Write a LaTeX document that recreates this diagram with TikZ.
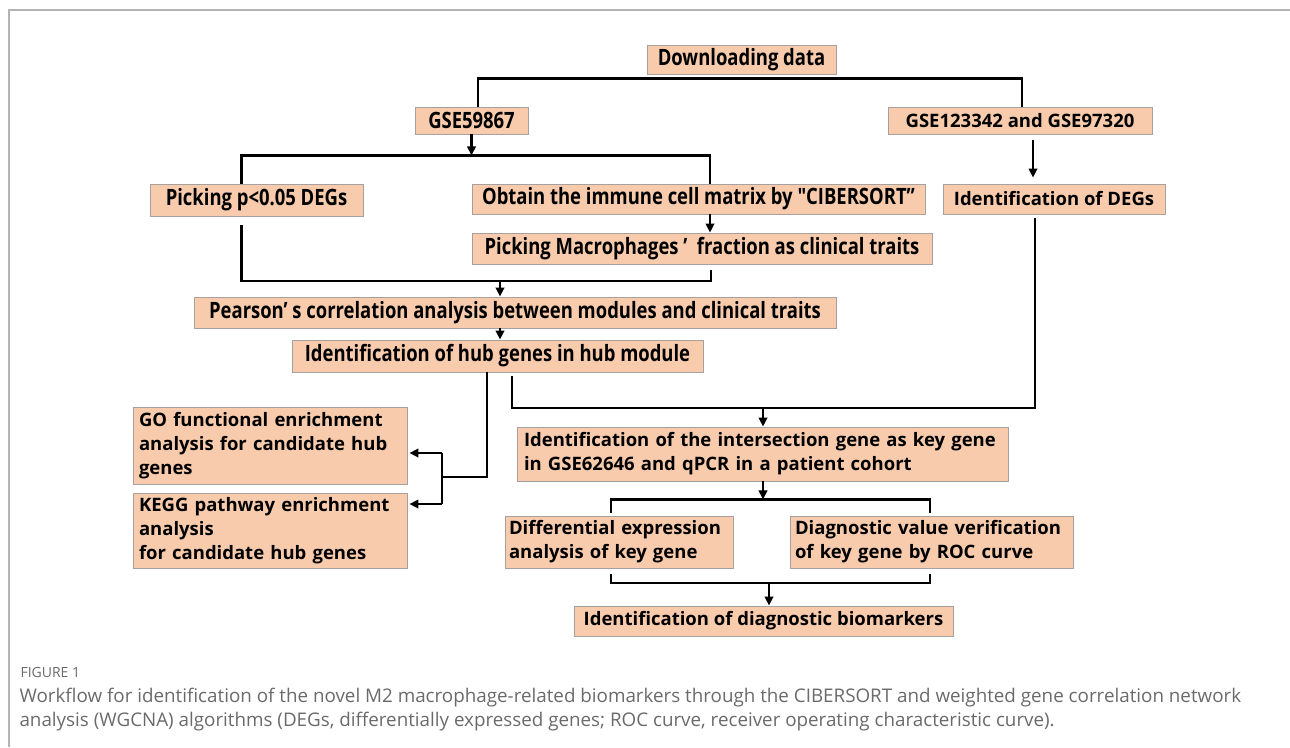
\documentclass[tikz,border=0pt]{standalone}
\usepackage{fontspec}
\setmainfont{Open Sans}
\newfontfamily\narrowfont[FakeStretch=0.82]{Open Sans}
\usetikzlibrary{arrows.meta,calc}
\definecolor{boxfill}{HTML}{F8CBAD}
\definecolor{boxline}{HTML}{A6A0A0}
\definecolor{framegray}{HTML}{B4B4B4}
\definecolor{capgray}{HTML}{6A6A6A}
\begin{document}
\begin{tikzpicture}[x=1pt,y=-1pt,
    box/.style={draw=boxline,fill=boxfill,line width=0.9pt,inner sep=0pt,
      font=\fontsize{18.5}{24}\selectfont\bfseries,align=left},
    nbox/.style={box,font=\fontsize{22.5}{24}\narrowfont\bfseries},
    conn/.style={line width=2.6pt,line join=miter},
    arr/.style={conn,-{Triangle[length=9pt,width=8.5pt]}}]
  \useasboundingbox (0,0) rectangle (1290,747);
  \draw[framegray,line width=1.6pt] (9,747) -- (9,10) -- (1290,10);

  % boxes
  \node[nbox,minimum width=189,minimum height=29] (dl) at (741.5,59.5) {Downloading data};
  \node[nbox,minimum width=113,minimum height=27] (gsea) at (471.5,120.5) {GSE59867};
  \node[box,minimum width=264,minimum height=27] (gseb) at (1020,120.5) {GSE123342 and GSE97320};
  \node[nbox,minimum width=213,minimum height=32] (pick) at (256.5,200) {Picking p<0.05 DEGs};
  \node[nbox,minimum width=453,minimum height=30] (cib) at (698.5,199) {Obtain the immune cell matrix by "CIBERSORT”};
  \node[box,minimum width=222,minimum height=30] (degs) at (1054,199) {Identification of DEGs};
  \node[nbox,minimum width=460,minimum height=31] (macro) at (702,248.5) {Picking Macrophages ’\ \ fraction as clinical traits};
  \node[nbox,minimum width=642,minimum height=31] (pear) at (515,312.5) {Pearson’\ s correlation analysis between modules and clinical traits};
  \node[nbox,minimum width=411,minimum height=32] (hub) at (497.5,356) {Identification of hub genes in hub module};
  \node[box,minimum width=274,minimum height=77,text width=262] (go) at (270,445.5) {GO functional enrichment\\analysis for candidate hub\\genes};
  \node[box,minimum width=274,minimum height=75,text width=262] (kegg) at (270,530.5) {KEGG pathway enrichment\\analysis\\for candidate hub genes};
  \node[box,minimum width=491,minimum height=54,text width=477] (inter) at (762.5,454) {Identification of the intersection gene as key gene\\in GSE62646 and qPCR in a patient cohort};
  \node[box,minimum width=228,minimum height=52,text width=220] (diff) at (619,542) {Differential expression\\analysis of key gene};
  \node[box,minimum width=283,minimum height=52,text width=273] (diag) at (931.5,542) {Diagnostic value verification\\of key gene by ROC curve};
  \node[box,minimum width=379,minimum height=30] (bio) at (763.5,621) {Identification of diagnostic biomarkers};

  % connectors
  \draw[conn] ([xshift=6.5]gsea.north) -- ++(0,-28) -| ([xshift=2]gseb.north);
  \draw[arr] (gsea.south) -- ++(0,21) coordinate (s1);
  \draw[conn] ([xshift=-15]pick.north) |- (s1) -| ([xshift=11.5]cib.north);
  \draw[arr] ([xshift=11.5]cib.south) -- ([xshift=11.5]cib.south |- macro.north);
  \coordinate (m1) at (500,281);
  \draw[conn] ([xshift=-15,yshift=-9]pick.south) |- (m1) -| ([xshift=9,yshift=-6]macro.south);
  \draw[arr] (m1) -- (m1 |- pear.north);
  \draw[arr] (pear.south -| m1) -- (hub.north -| m1);
  \draw[arr,shorten <=6pt,shorten >=6pt] ([xshift=13]gseb.south) -- ([xshift=13]gseb.south |- degs.north);
%  \draw[conn] (hub.south) -- (go.east);
  \coordinate (g1) at (442,453);
  \coordinate (g2) at (442,504);
  \draw[conn] ([xshift=-10.5]hub.south) |- (442,477);
  \draw[conn] (g1) -- (g2);
  \draw[arr,shorten >=2pt] (g1) -- (g1 -| go.east);
  \draw[arr,shorten >=2pt] (g2) -- (g2 -| kegg.east);
  \coordinate (m2) at (763,408);
  \draw[conn] ([xshift=14.5,yshift=-4]hub.south) |- (m2);
  \draw[conn] ([xshift=-19,yshift=-4]degs.south) |- (m2);
  \draw[arr] (m2) -- (m2 |- inter.north);
  \draw[arr] (inter.south -| m2) -- ++(0,18) coordinate (s2);
  \draw[conn] ([xshift=-8,yshift=3]diff.north) |- (s2) -| ([xshift=-1.5,yshift=3]diag.north);
  \coordinate (m3) at (769,583);
  \draw[conn] ([xshift=-8,yshift=-6]diff.south) |- (m3) -| ([xshift=-1.5,yshift=-6]diag.south);
  \draw[arr] (m3) -- (m3 |- bio.north);

  % caption
  \node[anchor=west,text=capgray,font=\fontsize{14}{16}\selectfont] (fig) at (17,672) {FIGURE 1};
  \node[anchor=west,text=capgray,font=\fontsize{18.8}{24}\selectfont,align=left] (cap) at (16,710)
    {Workflow for identification of the novel M2 macrophage-related biomarkers through the CIBERSORT and weighted gene correlation network\\
     analysis (WGCNA) algorithms (DEGs, differentially expressed genes; ROC curve, receiver operating characteristic curve).};
\end{tikzpicture}
\end{document}
